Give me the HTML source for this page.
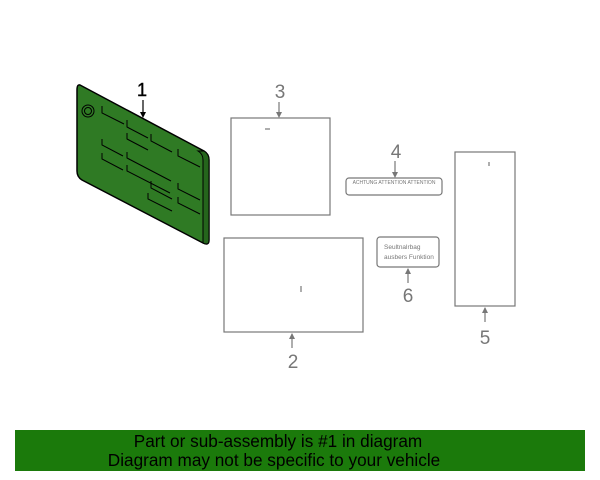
<!DOCTYPE html>
<html><head><style>body{margin:0;background:#fff}svg{display:block}</style></head><body>
<svg width="600" height="480" viewBox="0 0 600 480" xmlns="http://www.w3.org/2000/svg" font-family="Liberation Sans, sans-serif">
<path d="M80,85 L204,151 Q209,154 209,160 L209,240 Q209,246 203,243 L82,180 Q77,177 77,171 L77,90 Q77,84 80,85 Z" fill="#2f7a24" stroke="#000" stroke-width="1.5"/>
<path d="M204,151 Q209,154 209,160 L209,240 Q209,246 203,243 L203,160 Q203,154 198,151 Z" fill="#25651c" stroke="#000" stroke-width="1"/>
<circle cx="88" cy="111" r="6" fill="none" stroke="#000" stroke-width="1"/>
<circle cx="88" cy="111" r="3.5" fill="none" stroke="#000" stroke-width="1"/>
<g stroke="#000" stroke-width="1" fill="none">
<path d="M102,106 L102,113 L124,124"/>
<path d="M127,120 L127,127 L148,138"/>
<path d="M127,133 L127,139 L148,150"/>
<path d="M151,134 L151,141 L172,152"/>
<path d="M102,139 L102,145 L123,156"/>
<path d="M102,153 L102,159 L123,170"/>
<path d="M127,152 L127,158 L171,181"/>
<path d="M127,165 L127,171 L170,193"/>
<path d="M178,149 L178,156 L200,167"/>
<path d="M151,181 L151,188 L172,199"/>
<path d="M148,193 L148,199 L172,211"/>
<path d="M178,183 L178,189 L200,200"/>
<path d="M178,197 L178,203 L200,214"/>
</g>
<text x="142" y="96" font-size="18" text-anchor="middle" fill="#000" stroke="#000" stroke-width="0.4">1</text>
<line x1="143" y1="100" x2="143" y2="116" stroke="#000" stroke-width="1.2"/>
<path d="M140,112 L143,118 L146,112 Z" fill="#000"/>
<g stroke="#777" fill="none" stroke-width="1.2">
<rect x="231" y="118" width="99" height="97"/>
<line x1="265" y1="129" x2="270" y2="129"/>
<rect x="224" y="238" width="139" height="94"/>
<line x1="301" y1="286" x2="301" y2="292"/>
<rect x="455" y="152" width="60" height="154"/>
<line x1="489" y1="162" x2="489" y2="166"/>
<rect x="346" y="178" width="96" height="17" rx="3"/>
<rect x="377" y="237" width="62" height="30" rx="3"/>
<line x1="279" y1="102" x2="279" y2="116"/>
<line x1="292" y1="334" x2="292" y2="348"/>
<line x1="395" y1="161" x2="395" y2="176"/>
<line x1="408" y1="269" x2="408" y2="283"/>
<line x1="485" y1="308" x2="485" y2="322"/>
</g>
<g fill="#777">
<path d="M276,112 L279,118 L282,112Z"/>
<path d="M289,339 L292,333 L295,339Z"/>
<path d="M392,172 L395,178 L398,172Z"/>
<path d="M405,274 L408,268 L411,274Z"/>
<path d="M482,313 L485,307 L488,313Z"/>
</g>
<g fill="#777" font-size="19" text-anchor="middle">
<text x="280" y="98">3</text>
<text x="293" y="368">2</text>
<text x="396" y="158">4</text>
<text x="408" y="302">6</text>
<text x="485" y="344">5</text>
</g>
<text x="394" y="184" font-size="5" fill="#777" text-anchor="middle">ACHTUNG ATTENTION ATTENTION</text>
<text x="384" y="249" font-size="6.5" fill="#777">Seultnalrbag</text>
<text x="384" y="259" font-size="6.5" fill="#777">ausbers Funktion</text>
<rect x="15" y="430" width="570" height="41" fill="#1b7a0b"/>
<text x="278" y="447" font-size="17.2" text-anchor="middle" fill="#000">Part or sub-assembly is #1 in diagram</text>
<text x="274" y="466" font-size="17.2" text-anchor="middle" fill="#000">Diagram may not be specific to your vehicle</text>
</svg>
</body></html>
